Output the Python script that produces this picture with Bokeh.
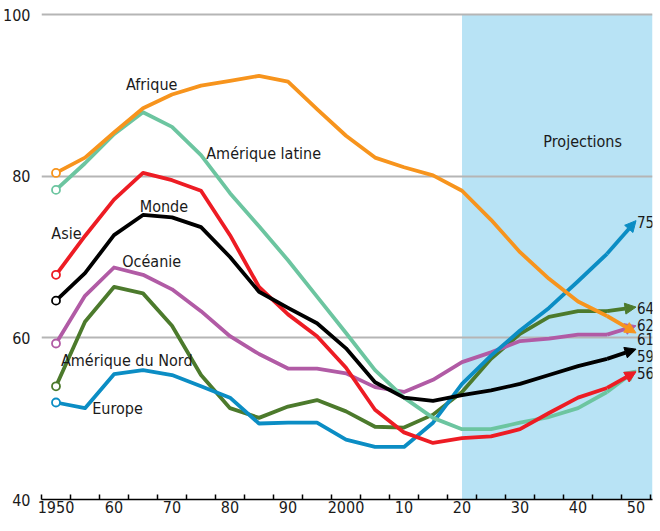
from bokeh.plotting import figure
from bokeh.models import FixedTicker, Arrow, NormalHead, Range1d, Label
from bokeh.core.properties import value
from bokeh.embed import file_html
from bokeh.resources import INLINE

# ---------------- data ----------------
YEARS = [1950, 1955, 1960, 1965, 1970, 1975, 1980, 1985, 1990, 1995, 2000,
         2005, 2010, 2015, 2020, 2025, 2030, 2035, 2040, 2045, 2050]

afrique = [80.4, 82.3, 85.4, 88.4, 90.1, 91.2, 91.8, 92.4, 91.7, 88.3, 85.0,
           82.3, 81.1, 80.1, 78.2, 74.6, 70.6, 67.3, 64.5, 62.7, 60.6]
amerique_latine = [78.3, 81.6, 85.2, 87.9, 86.1, 82.6, 77.9, 73.8, 69.6, 65.1, 60.6,
                   56.0, 52.6, 50.1, 48.7, 48.7, 49.5, 50.2, 51.3, 53.3, 56.0]
asie = [67.8, 72.6, 77.1, 80.4, 79.5, 78.2, 72.7, 66.3, 62.9, 60.2, 56.3,
        51.1, 48.3, 47.0, 47.6, 47.8, 48.7, 50.7, 52.6, 53.8, 55.8]
monde = [64.6, 68.0, 72.7, 75.2, 74.9, 73.7, 70.0, 65.7, 63.7, 61.8, 58.7,
         54.5, 52.6, 52.2, 52.9, 53.5, 54.3, 55.4, 56.5, 57.4, 58.6]
oceanie = [59.3, 65.2, 68.7, 67.8, 66.0, 63.3, 60.2, 58.0, 56.2, 56.2, 55.6,
           53.9, 53.3, 54.8, 57.0, 58.2, 59.6, 59.9, 60.4, 60.4, 61.5]
amerique_nord = [54.0, 62.0, 66.3, 65.5, 61.5, 55.4, 51.3, 50.1, 51.5, 52.3, 50.9,
                 49.0, 48.9, 50.5, 53.3, 57.4, 60.5, 62.6, 63.3, 63.3, 63.8]
europe = [52.0, 51.3, 55.5, 56.0, 55.4, 54.0, 52.6, 49.4, 49.5, 49.5, 47.4,
          46.5, 46.5, 49.5, 54.3, 57.8, 60.9, 63.7, 67.0, 70.4, 74.5]

SERIES_NAMES = ["Amérique du Nord", "Océanie", "Europe", "Amérique latine",
                "Asie", "Monde", "Afrique"]
SERIES_VALUES = [amerique_nord, oceanie, europe, amerique_latine, asie, monde, afrique]
SERIES_COLORS = ["#4c7a2c", "#b15ba5", "#0b8dc4", "#6cc5a0", "#ed1c24", "#000000", "#f7941d"]

X_TICKS = [1950, 1960, 1970, 1980, 1990, 2000, 2010, 2020, 2030, 2040, 2050]
X_TICK_LABELS = ["1950", "60", "70", "80", "90", "2000", "10", "20", "30", "40", "50"]
Y_TICKS = [40, 60, 80, 100]
Y_GRID = [60, 80, 100]
PROJECTION_START = 2020
PROJECTION_LABEL = "Projections"

END_LABELS = ["75", "64", "62", "61", "59", "56"]

# ---------------- layout / style ----------------
FONT = "DejaVu Sans Condensed, sans-serif"
FS = "16px"
X0, X1 = 1947.5, 2052.84
Y0, Y1 = 40, 100.99

p = figure(frame_width=611, frame_height=493, output_backend="svg", toolbar_location=None,
           x_range=Range1d(X0, X1), y_range=Range1d(Y0, Y1),
           min_border_left=33, min_border_right=6, min_border_top=6,
           min_border_bottom=24)
p.outline_line_color = None
p.xgrid.visible = False
p.ygrid.visible = False

# projection band
p.quad(left=[PROJECTION_START], right=[X1], bottom=[Y0], top=[Y_TICKS[-1]],
       fill_color="#b8e3f5", line_color=None)
# gridlines
p.hspan(y=Y_GRID, line_color="#b5b5b5", line_width=2)

# series
for name, vals, col in zip(SERIES_NAMES, SERIES_VALUES, SERIES_COLORS):
    p.line(YEARS[:-1], vals[:-1], line_color=col, line_width=3.8, line_join="round")
    p.add_layout(Arrow(end=NormalHead(size=11, fill_color=col, line_color=col, line_width=1),
                       x_start=YEARS[-2], y_start=vals[-2], x_end=YEARS[-1], y_end=vals[-1],
                       line_color=col, line_width=3.8))
    p.scatter([YEARS[0]], [vals[0]], size=8, fill_color="white", line_color=col,
              line_width=1.8)

# axes
p.xaxis.ticker = FixedTicker(ticks=X_TICKS,
                             minor_ticks=[y - 2.5 for y in YEARS] + [YEARS[-1] + 2.5])
p.xaxis.major_label_overrides = {t: l for t, l in zip(X_TICKS, X_TICK_LABELS)}
p.xaxis.major_tick_in = 0
p.xaxis.major_tick_out = 0
p.xaxis.minor_tick_in = 5
p.xaxis.minor_tick_out = 0
p.xaxis.minor_tick_line_color = "black"
p.xaxis.minor_tick_line_width = 1.5
p.xaxis.axis_line_color = "black"
p.xaxis.axis_line_width = 1.5
p.xaxis.major_label_standoff = 1
p.xaxis.major_label_text_font = FONT
p.xaxis.major_label_text_font_size = FS
p.xaxis.major_label_text_color = "#1a1a1a"

p.yaxis.ticker = FixedTicker(ticks=Y_TICKS)
p.yaxis.axis_line_color = None
p.yaxis.major_tick_line_color = None
p.yaxis.minor_tick_line_color = None
p.yaxis.major_label_standoff = 5
p.yaxis.major_label_text_font = FONT
p.yaxis.major_label_text_font_size = FS
p.yaxis.major_label_text_color = "#1a1a1a"

# series labels (positions)
LBL_X = [1962.2, 1966.5, 1960.6, 1985.8, 1951.8, 1968.6, 1966.5, 2040.8]
LBL_Y = [57.2, 69.5, 51.3, 82.8, 72.9, 76.3, 91.3, 84.3]
p.text(x=LBL_X, y=LBL_Y, text=SERIES_NAMES + [PROJECTION_LABEL],
       text_font=value(FONT), text_font_size=FS, text_align="center",
       text_baseline="middle", text_color="#1a1a1a")

END_Y = [74.3, 63.7, 61.6, 59.8, 57.8, 55.6]
for lbl, yy in zip(END_LABELS, END_Y):
    p.add_layout(Label(x=YEARS[-1], y=yy, text=lbl, x_offset=1,
                       text_font=FONT, text_font_size="15px", text_align="left",
                       text_baseline="middle", text_color="#1a1a1a"))

open("out.html", "w").write(file_html(p, INLINE))
